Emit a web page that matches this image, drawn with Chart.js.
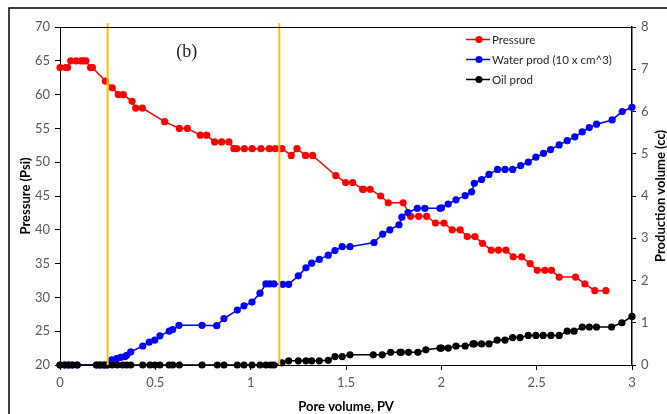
<!DOCTYPE html>
<html><head><meta charset="utf-8">
<script src="https://cdn.jsdelivr.net/npm/chart.js@4/dist/chart.umd.min.js"></script>
<style>html,body{margin:0;padding:0;background:#fff;overflow:hidden}</style>
</head><body>
<canvas id="c" width="667" height="414" style="display:block;width:667px;height:414px"></canvas>
<script>
// ---- data ----
const pvPressure=[0,0.03,0.04,0.056,0.084,0.11,0.122,0.136,0.16,0.17,0.238,0.274,0.306,0.332,0.378,0.397,0.432,0.549,0.626,0.668,0.736,0.769,0.811,0.848,0.886,0.912,0.927,0.967,1.008,1.054,1.098,1.129,1.164,1.213,1.243,1.288,1.325,1.447,1.498,1.535,1.587,1.592,1.627,1.682,1.722,1.80,1.839,1.881,1.923,1.969,2.014,2.057,2.099,2.136,2.176,2.216,2.262,2.30,2.339,2.377,2.421,2.466,2.503,2.543,2.578,2.618,2.704,2.753,2.805,2.863];
const pressure=[64,64,64,65,65,65,65,65,64,64,62,61,60,60,59,58,58,56,55,55,54,54,53,53,53,52,52,52,52,52,52,52,52,51,52,51,51,48,47,47,46,46,46,45,44,44,42,42,42,41,41,40,40,39,39,38,37,37,37,36,36,35,34,34,34,33,33,32,31,31];

const pvWater=[0,0.025,0.045,0.065,0.09,0.192,0.21,0.231,0.248,0.271,0.297,0.318,0.341,0.35,0.371,0.434,0.468,0.497,0.524,0.573,0.591,0.624,0.745,0.822,0.86,0.93,0.965,1.007,1.049,1.08,1.10,1.122,1.168,1.199,1.25,1.29,1.32,1.36,1.407,1.442,1.48,1.521,1.647,1.692,1.73,1.778,1.793,1.825,1.874,1.914,1.993,2.001,2.036,2.077,2.125,2.159,2.173,2.211,2.25,2.295,2.334,2.374,2.416,2.456,2.496,2.536,2.573,2.618,2.66,2.70,2.739,2.776,2.814,2.896,2.949,3.0];
const waterProd=[0,0,0,0,0,0,0,0,0,0.12,0.15,0.18,0.20,0.23,0.31,0.45,0.54,0.59,0.69,0.80,0.84,0.94,0.94,0.93,1.10,1.30,1.40,1.49,1.70,1.92,1.92,1.92,1.91,1.91,2.11,2.30,2.41,2.50,2.60,2.71,2.80,2.80,2.90,3.10,3.20,3.32,3.50,3.61,3.71,3.71,3.71,3.72,3.81,3.91,4.01,4.10,4.30,4.39,4.51,4.63,4.63,4.63,4.72,4.80,4.92,5.01,5.10,5.21,5.31,5.40,5.52,5.62,5.70,5.80,6.00,6.10];

const pvOil=[0,0.025,0.045,0.065,0.09,0.192,0.21,0.231,0.248,0.274,0.301,0.329,0.35,0.371,0.434,0.472,0.498,0.524,0.572,0.591,0.626,0.745,0.825,0.86,0.93,0.965,1.007,1.049,1.08,1.105,1.122,1.164,1.199,1.25,1.29,1.32,1.36,1.407,1.442,1.48,1.521,1.643,1.69,1.734,1.783,1.79,1.828,1.877,1.919,1.993,2.001,2.036,2.077,2.125,2.166,2.173,2.211,2.25,2.293,2.334,2.374,2.413,2.456,2.496,2.534,2.575,2.618,2.66,2.696,2.739,2.776,2.814,2.893,2.947,3.0];
const oilProd=[0,0,0,0,0,0,0,0,0,0,0,0,0,0,0,0,0,0,0,0,0,0,0,0,0,0,0,0,0,0,0,0.05,0.10,0.10,0.10,0.10,0.10,0.11,0.20,0.20,0.24,0.24,0.24,0.30,0.30,0.30,0.30,0.30,0.36,0.40,0.40,0.40,0.45,0.45,0.50,0.50,0.50,0.50,0.59,0.59,0.65,0.65,0.70,0.70,0.70,0.70,0.70,0.80,0.80,0.90,0.90,0.90,0.90,1.00,1.15];

const seriesNames=['Pressure','Water prod (10 x cm^3)','Oil prod'];
const markerPV=[0.25,1.15];          // vertical reference lines
const xTickValues=[0,0.5,1,1.5,2,2.5,3];
const pressureTicks=[20,25,30,35,40,45,50,55,60,65,70];
const prodTicks=[0,1,2,3,4,5,6,7,8];
const panelLabel='(b)';
const axisTitles={x:'Pore volume, PV',y:'Pressure (Psi)',y1:'Production volume (cc)'};

// ---- build ----
const zip=(xs,ys)=>xs.map((v,i)=>({x:v,y:ys[i]}));
const mk=(label,data,color,axis,order)=>({label,data,yAxisID:axis,order,
  borderColor:color,backgroundColor:color,borderWidth:1.5,pointRadius:3.6,
  pointHoverRadius:3.6,pointBorderWidth:0,pointBackgroundColor:color,tension:0,clip:false});

const TICK_FONT={family:'Lato, "Open Sans", sans-serif',size:13};
const TICK_COLOR='#595959';

const deco={id:'deco',
  beforeDraw(chart){
    const c=chart.ctx;c.save();c.fillStyle='#fff';c.fillRect(0,0,chart.width,chart.height);
    c.strokeStyle='#000';c.lineWidth=1.5;c.strokeRect(9,8,720,480);c.restore();
  },
  afterDatasetsDraw(chart){
    const c=chart.ctx,a=chart.chartArea,xs=chart.scales.x;
    c.save();c.strokeStyle='#FFC000';c.lineWidth=2;
    markerPV.forEach(v=>{const p=xs.getPixelForValue(v);c.beginPath();c.moveTo(p,a.top-4);c.lineTo(p,a.bottom);c.stroke();});
    c.restore();
  },
  afterDraw(chart){
    const c=chart.ctx,a=chart.chartArea,xs=chart.scales.x,ys=chart.scales.y;
    c.save();
    // top frame of plot area
    c.strokeStyle='#000';c.lineWidth=1;c.beginPath();c.moveTo(a.left,a.top+0.5);c.lineTo(a.right,a.top+0.5);c.stroke();
    // axis titles
    c.fillStyle='#000';c.font='bold 13px Lato, "Open Sans", sans-serif';c.textAlign='center';c.textBaseline='middle';
    const cy=(a.top+a.bottom)/2;
    c.fillText(axisTitles.x,(a.left+a.right)/2,407);
    c.save();c.translate(26,cy);c.rotate(-Math.PI/2);c.fillText(axisTitles.y,0,0);c.restore();
    c.save();c.translate(661,cy);c.rotate(-Math.PI/2);c.fillText(axisTitles.y1,0,0);c.restore();
    // panel label
    c.font='18px "Liberation Serif", "DejaVu Serif", serif';c.fillStyle='#222';
    c.fillText(panelLabel,xs.getPixelForValue(0.665),ys.getPixelForValue(66.2));
    // legend
    c.font='11.5px Lato, "Open Sans", sans-serif';c.textAlign='left';
    chart.data.datasets.forEach((d,i)=>{
      const y=39.5+i*20;
      c.strokeStyle=d.borderColor;c.lineWidth=1.5;c.beginPath();c.moveTo(466,y);c.lineTo(490,y);c.stroke();
      c.fillStyle=d.borderColor;c.beginPath();c.arc(479,y,3.6,0,Math.PI*2);c.fill();
      c.fillStyle='#262626';c.fillText(d.label,492,y+0.5);
    });
    c.restore();
  }
};

new Chart(document.getElementById('c'),{
  type:'line',
  data:{datasets:[
    mk(seriesNames[0],zip(pvPressure,pressure),'#FF0000','y',2),
    mk(seriesNames[1],zip(pvWater,waterProd),'#0000FF','y1',1),
    mk(seriesNames[2],zip(pvOil,oilProd),'#000000','y1',0)
  ]},
  options:{
    responsive:false,animation:false,devicePixelRatio:1,
    layout:{padding:{top:27,left:0,right:0,bottom:0}},
    plugins:{legend:{display:false},tooltip:{enabled:false}},
    events:[],
    scales:{
      x:{type:'linear',min:0,max:3,
        afterBuildTicks:s=>{s.ticks=xTickValues.map(v=>({value:v}));},
        afterFit:s=>{s.height=49;},
        grid:{drawOnChartArea:false,drawTicks:true,tickLength:5,color:'#000'},
        border:{display:true,color:'#000',width:1},
        ticks:{font:TICK_FONT,color:TICK_COLOR,padding:5,maxRotation:0,callback:v=>String(v)}},
      y:{type:'linear',position:'left',min:20,max:70,
        afterBuildTicks:s=>{s.ticks=pressureTicks.map(v=>({value:v}));},
        afterFit:s=>{s.width=60;},
        grid:{drawOnChartArea:false,drawTicks:true,tickLength:5,color:'#000'},
        border:{display:true,color:'#000',width:1},
        ticks:{font:TICK_FONT,color:TICK_COLOR,padding:5}},
      y1:{type:'linear',position:'right',min:0,max:8,
        afterBuildTicks:s=>{s.ticks=prodTicks.map(v=>({value:v}));},
        afterFit:s=>{s.width=35;},
        grid:{drawOnChartArea:false,drawTicks:true,tickLength:4,color:'#000'},
        border:{display:true,color:'#000',width:1.5},
        ticks:{font:TICK_FONT,color:TICK_COLOR,padding:5}}
    }
  },
  plugins:[deco]
});
</script>
</body></html>
